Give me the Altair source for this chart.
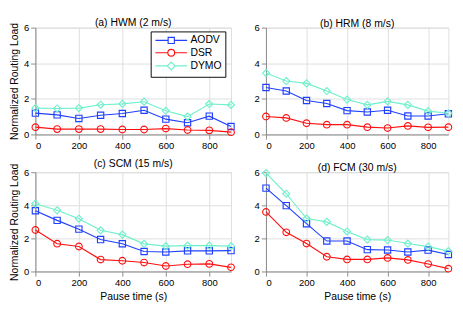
import altair as alt
import pandas as pd

pause = [0, 100, 200, 300, 400, 500, 600, 700, 800, 900]
protocols = ["AODV", "DSR", "DYMO"]
colors = ["#2040ff", "#ff1010", "#6ff0cc"]

hwm_aodv = [1.20, 1.10, 0.90, 1.08, 1.18, 1.36, 0.86, 0.66, 1.03, 0.45]
hwm_dsr = [0.41, 0.30, 0.30, 0.30, 0.28, 0.28, 0.33, 0.25, 0.23, 0.13]
hwm_dymo = [1.48, 1.46, 1.48, 1.67, 1.72, 1.84, 1.33, 1.00, 1.71, 1.66]

hrm_aodv = [2.64, 2.44, 1.91, 1.74, 1.34, 1.26, 1.36, 1.04, 1.04, 1.16]
hrm_dsr = [1.01, 0.93, 0.63, 0.55, 0.55, 0.41, 0.36, 0.48, 0.40, 0.41]
hrm_dymo = [3.45, 3.00, 2.87, 2.44, 1.96, 1.66, 1.86, 1.66, 1.31, 1.19]

scm_aodv = [3.67, 3.09, 2.56, 1.93, 1.68, 1.21, 1.18, 1.25, 1.25, 1.26]
scm_dsr = [2.51, 1.68, 1.51, 0.72, 0.65, 0.54, 0.33, 0.44, 0.46, 0.25]
scm_dymo = [4.10, 3.70, 3.19, 2.49, 2.23, 1.67, 1.53, 1.56, 1.56, 1.53]

fcm_aodv = [5.04, 3.98, 2.89, 1.84, 1.84, 1.32, 1.30, 1.18, 1.29, 1.03]
fcm_dsr = [3.60, 2.37, 1.69, 0.89, 0.73, 0.73, 0.82, 0.70, 0.45, 0.17]
fcm_dymo = [5.95, 4.70, 3.20, 3.00, 2.42, 1.93, 1.90, 1.69, 1.50, 1.23]

titles = ["(a) HWM (2 m/s)", "(b) HRM (8 m/s)", "(c) SCM (15 m/s)", "(d) FCM (30 m/s)"]
x_ticks = [0, 200, 400, 600, 800]
y_ticks = [0, 2, 4, 6]
FONT = "Liberation Sans"

# legend symbols: a line segment with the marker in its middle
legend_paths = [
    "M-1,0H1.99M3.45,0H6.45M1.99,-0.73H3.45V0.73H1.99Z",
    "M-1,0H1.92M3.52,0H6.45M1.92,0A0.8,0.8,0,1,1,3.52,0A0.8,0.8,0,1,1,1.92,0Z",
    "M-1,0H1.79M3.65,0H6.45M1.79,0L2.72,-0.93L3.65,0L2.72,0.93Z",
]


def make_df(aodv, dsr, dymo):
    rows = []
    for name, vals in zip(protocols, [aodv, dsr, dymo]):
        for p, v in zip(pause, vals):
            rows.append({"Pause": p, "Load": v, "Protocol": name})
    return pd.DataFrame(rows)


def panel(title, aodv, dsr, dymo, width, height, ytitle, xtitle, legend=False):
    df = make_df(aodv, dsr, dymo)
    base = alt.Chart(df)
    x = alt.X("Pause:Q", scale=alt.Scale(domain=[0, 900], nice=False),
              axis=alt.Axis(values=x_ticks, title=xtitle if xtitle else None,
                            titleFontWeight="normal"))
    y = alt.Y("Load:Q", scale=alt.Scale(domain=[0, 6], nice=False),
              axis=alt.Axis(values=y_ticks, title=ytitle if ytitle else None,
                            titleFontWeight="normal"))
    cscale = alt.Scale(domain=protocols, range=colors)
    line = base.mark_line(strokeWidth=1.2).encode(
        x=x, y=y, color=alt.Color("Protocol:N", scale=cscale, legend=None),
        detail="Protocol:N")
    pts = base.mark_point(filled=False, strokeWidth=1.2, opacity=1).encode(
        x=x, y=y,
        color=alt.Color("Protocol:N", scale=cscale, legend=None),
        shape=alt.Shape("Protocol:N", scale=alt.Scale(domain=protocols, range=["square", "circle", "diamond"]), legend=None),
        size=alt.Size("Protocol:N", scale=alt.Scale(domain=protocols, range=[44, 56, 72]), legend=None),
    )
    layers = [line, pts]
    if legend:
        lg = alt.Legend(title=None, orient="none", legendX=122, legendY=4,
                        strokeColor="black", fillColor="white", padding=4,
                        labelFont=FONT, labelFontSize=11, labelColor="black",
                        symbolSize=81, symbolStrokeWidth=1.2, symbolOpacity=1,
                        labelOffset=27, rowPadding=0, cornerRadius=0)
        # invisible helper layer (first point of each series) that only feeds the legend
        leg = base.mark_point(filled=False, opacity=0).encode(
            x=x, y=y,
            color=alt.Color("Protocol:N", scale=cscale, legend=lg),
            shape=alt.Shape("Protocol:N", scale=alt.Scale(domain=protocols, range=legend_paths), legend=lg),
        ).transform_filter(alt.datum.Pause == 0)
        layers.append(leg)
    ch = alt.layer(*layers).properties(
        width=width, height=height,
        title=alt.TitleParams(title, fontSize=11, fontWeight="normal", font=FONT, offset=-6, color="black"))
    if legend:
        ch = ch.resolve_scale(color="independent", shape="independent")
    return ch


a = panel(titles[0], hwm_aodv, hwm_dsr, hwm_dymo, 207, 113, "Normalized Routing Load", None, legend=True)
b = panel(titles[1], hrm_aodv, hrm_dsr, hrm_dymo, 193, 113, None, None)
c = panel(titles[2], scm_aodv, scm_dsr, scm_dymo, 207, 105, "Normalized Routing Load", "Pause time (s)")
d = panel(titles[3], fcm_aodv, fcm_dsr, fcm_dymo, 193, 105, None, "Pause time (s)")

chart = alt.vconcat(
    alt.hconcat(a, b, spacing=16),
    alt.hconcat(c, d, spacing=16),
    spacing=6,
).properties(
    padding={"left": 0, "top": 0, "right": 0, "bottom": 0}
).configure_view(
    stroke="black", strokeWidth=1
).configure_axis(
    grid=True, gridColor="#8a8a8a", gridDash=[1, 4], gridWidth=1,
    domain=False, ticks=False, tickSize=0,
    labelFont=FONT, labelFontSize=10, labelColor="black", labelPadding=3,
    titleFont=FONT, titleFontSize=11, titleFontWeight="normal", titleColor="black",
).configure_axisY(
    titlePadding=5, titleFontSize=10.5
).configure_axisX(
    titlePadding=0
).configure(background="white")

chart.save("out.html", embed_options={"renderer": "svg", "actions": False})
